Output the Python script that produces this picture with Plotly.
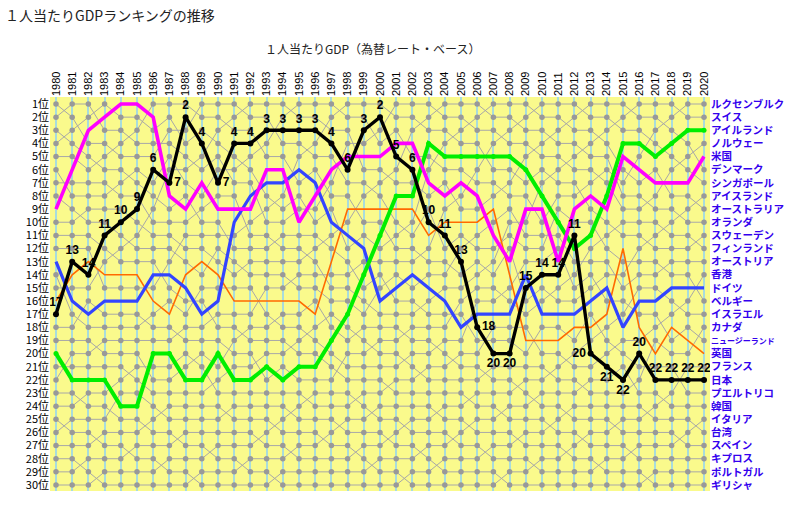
import plotly.graph_objects as go

# ---------------- data ----------------
years = list(range(1980, 2021))
rank_labels = [f"{i}位" for i in range(1, 31)]

# country order in 2020 (right-hand labels)
countries_2020 = [
    "ルクセンブルク", "スイス", "アイルランド", "ノルウェー", "米国", "デンマーク",
    "シンガポール", "アイスランド", "オーストラリア", "オランダ", "スウェーデン",
    "フィンランド", "オーストリア", "香港", "ドイツ", "ベルギー", "イスラエル",
    "カナダ", "ニュージーランド", "英国", "フランス", "日本", "プエルトリコ", "韓国",
    "イタリア", "台湾", "スペイン", "キプロス", "ポルトガル", "ギリシャ",
]

japan = [17, 13, 14, 11, 10, 9, 6, 7, 2, 4, 7, 4, 4, 3, 3, 3, 3, 4, 6, 3,
         2, 5, 6, 10, 11, 13, 18, 20, 20, 15, 14, 14, 11, 20, 21, 22, 20, 22, 22, 22, 22]
usa = [9, 6, 3, 2, 1, 1, 2, 8, 9, 7, 9, 9, 9, 6, 6, 10, 8, 6, 5, 5,
       5, 4, 4, 7, 8, 7, 8, 11, 13, 9, 9, 13, 9, 8, 9, 5, 6, 7, 7, 7, 5]
ireland = [20, 22, 22, 22, 24, 24, 20, 20, 22, 22, 20, 22, 22, 21, 22, 21, 21, 19, 17, 14,
           11, 8, 8, 4, 5, 5, 5, 5, 5, 6, 8, 10, 12, 11, 8, 4, 4, 5, 4, 3, 3]
germany = [13, 16, 17, 16, 16, 16, 14, 14, 15, 17, 16, 10, 8, 7, 7, 6, 7, 10, 11, 12,
           16, 15, 14, 15, 16, 18, 17, 17, 17, 14, 17, 17, 17, 16, 15, 18, 16, 16, 15, 15, 15]
uk = [16, 14, 13, 14, 14, 14, 16, 17, 14, 13, 14, 16, 16, 16, 16, 16, 17, 13, 9, 9,
      9, 9, 9, 11, 10, 10, 10, 9, 14, 19, 19, 19, 18, 18, 17, 12, 18, 20, 18, 19, 20]

# rank swaps among the other (grey) countries, keyed by the later year of each transition
swaps = {
    1981: [0, 2, 5, 11, 15, 19], 1982: [1, 7, 12, 17, 22],
    1983: [0, 3, 10, 14, 20, 23], 1984: [2, 5, 9, 18],
    1985: [1, 4, 8, 16, 21], 1986: [0, 6, 7, 12, 15, 19],
    1987: [2, 5, 10, 18, 22], 1988: [1, 4, 8, 9, 13, 20],
    1989: [0, 3, 6, 11, 15, 23], 1990: [2, 9, 12, 16, 21],
    1991: [1, 4, 7, 14, 18], 1992: [0, 3, 6, 9, 13, 22],
    1993: [2, 5, 11, 15, 20], 1994: [1, 4, 7, 12, 19, 23],
    1995: [0, 3, 10, 14, 18, 21], 1996: [2, 5, 8, 13, 17],
    1997: [1, 4, 7, 9, 12, 20], 1998: [0, 3, 6, 14, 15, 19],
    1999: [2, 5, 8, 12, 17, 21], 2000: [1, 4, 10, 13, 18, 22],
    2001: [0, 3, 6, 9, 16, 20], 2002: [2, 5, 12, 14, 19, 23],
    2003: [1, 4, 7, 10, 15, 21], 2004: [0, 3, 6, 13, 18, 22],
    2005: [2, 5, 8, 11, 14, 20], 2006: [1, 4, 7, 12, 17, 19],
    2007: [0, 3, 9, 13, 15, 21], 2008: [2, 5, 8, 11, 18, 23],
    2009: [1, 4, 7, 10, 16, 20], 2010: [0, 3, 6, 13, 17, 22],
    2011: [2, 5, 8, 11, 15, 19], 2012: [1, 4, 10, 14, 18, 21],
    2013: [0, 3, 6, 9, 16, 20], 2014: [2, 5, 8, 11, 13, 22],
    2015: [1, 4, 7, 10, 14, 19], 2016: [0, 3, 9, 12, 16, 21],
    2017: [2, 5, 8, 15, 18, 23], 2018: [1, 4, 7, 10, 13, 17],
    2019: [0, 3, 6, 12, 16, 20], 2020: [2, 5, 8, 11, 14, 19],
}

# ---------------- styles ----------------
FONT = "Liberation Sans, Noto Sans CJK JP, sans-serif"
JFONT = "Noto Sans CJK JP, sans-serif"
jp_label_pos = (["top center"] * 7 + ["middle right"] + ["top center"] * 2
                + ["middle right"] + ["top center"] * 15 + ["middle right"]
                + ["bottom center"] * 2 + ["top center"] * 4 + ["middle left"]
                + ["bottom center"] * 2 + ["top center"] * 5)

highlight = {"英国": uk, "ドイツ": germany, "アイルランド": ireland, "米国": usa, "日本": japan}
hl_style = {
    "英国": dict(color="#FF6A00", width=1.6, msize=0),
    "ドイツ": dict(color="#3344FF", width=3.2, msize=0),
    "アイルランド": dict(color="#00EE00", width=4, msize=5),
    "米国": dict(color="#FF00FF", width=3.6, msize=0),
    "日本": dict(color="#000000", width=3.4, msize=6),
}

# ---------------- build grey ranks ----------------
others = [c for c in countries_2020 if c not in highlight]
order = {2020: list(others)}
for y in range(2020, 1980, -1):
    o = list(order[y])
    for i in swaps[y]:
        o[i], o[i + 1] = o[i + 1], o[i]
    order[y - 1] = o

gray_ranks = {c: [] for c in others}
for k, y in enumerate(years):
    taken = {s[k] for s in highlight.values()}
    free = [r for r in range(1, 31) if r not in taken]
    for c, r in zip(order[y], free):
        gray_ranks[c].append(r)

fig = go.Figure()
for c in others:
    fig.add_trace(go.Scatter(
        x=years, y=gray_ranks[c], mode="lines+markers",
        line=dict(color="#A8A8A8", width=1),
        marker=dict(color="#999999", size=5.5),
        hoverinfo="skip"))

for name, vals in highlight.items():
    st = hl_style[name]
    if name == "日本":
        fig.add_trace(go.Scatter(
            x=years, y=vals, mode="lines+markers+text",
            text=[str(v) for v in vals], textposition=jp_label_pos,
            textfont=dict(family=FONT, size=12, color="black", weight="bold"),
            line=dict(color=st["color"], width=st["width"]),
            marker=dict(color=st["color"], size=st["msize"])))
    else:
        fig.add_trace(go.Scatter(
            x=years, y=vals, mode="lines+markers" if st["msize"] else "lines",
            line=dict(color=st["color"], width=st["width"]),
            marker=dict(color=st["color"], size=st["msize"])))

# invisible trace to carry the right-hand axis
fig.add_trace(go.Scatter(x=[years[0]], y=[1], yaxis="y2", mode="markers",
                         marker=dict(opacity=0), hoverinfo="skip"))

right_text = []
for c in countries_2020:
    if c == "ニュージーランド":
        right_text.append("<span style='font-size:8px'><b>" + c + "</b></span>")
    else:
        right_text.append("<b>" + c + "</b>")

yr = [30.457, 0.467]
fig.update_layout(
    width=800, height=509,
    margin=dict(l=50, r=90, t=97, b=18, autoexpand=False),
    plot_bgcolor="#FAFA8C", paper_bgcolor="white",
    showlegend=False,
    xaxis=dict(range=[1979.63, 2020.37], side="top", tickmode="array",
               tickvals=years, ticktext=[str(y) for y in years], tickangle=-90,
               showgrid=True, gridcolor="#A8DCDC", gridwidth=2, zeroline=False,
               ticks="", showline=False, automargin=False,
               tickfont=dict(family=FONT, size=11, color="black")),
    yaxis=dict(range=yr, tickmode="array", tickvals=list(range(1, 31)),
               ticktext=rank_labels, showgrid=False, zeroline=False, ticks="",
               automargin=False,
               tickfont=dict(family=JFONT, size=11, color="black")),
    yaxis2=dict(range=yr, overlaying="y", side="right", tickmode="array",
                tickvals=list(range(1, 31)), ticktext=right_text,
                showgrid=False, zeroline=False, ticks="", automargin=False,
                tickfont=dict(family=JFONT, size=10.5, color="#3300EE")),
    annotations=[
        dict(text="１人当たりGDPランキングの推移", x=3, y=509 - 15, xref="paper", yref="paper",
             showarrow=False, xanchor="left", yanchor="middle",
             font=dict(family=JFONT, size=14, color="#222")),
        dict(text="１人当たりGDP（為替レート・ベース）", x=373, y=509 - 48, xref="paper", yref="paper",
             showarrow=False, xanchor="center", yanchor="middle",
             font=dict(family=JFONT, size=12, color="#222")),
    ],
)
# convert pixel positions of annotations into paper coordinates
pw, ph = 800 - 50 - 90, 509 - 97 - 18
for a in fig.layout.annotations:
    a.x = (a.x - 50) / pw
    a.y = (a.y - 18) / ph

fig.write_html("out.html", config={"displayModeBar": False},
               post_script="document.body.style.margin='0';document.body.style.overflow='hidden';")
